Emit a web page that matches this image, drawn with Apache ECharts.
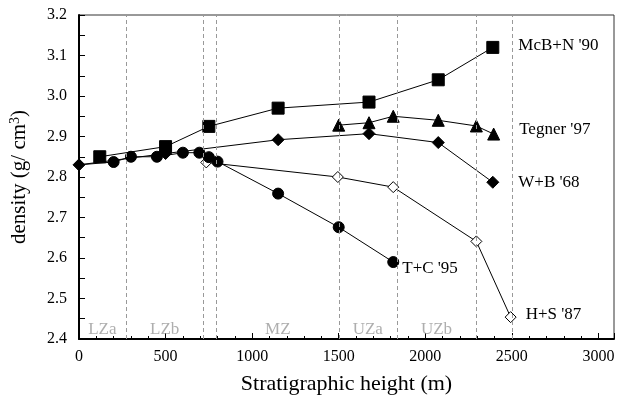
<!DOCTYPE html>
<html>
<head>
<meta charset="utf-8">
<script src="https://cdn.jsdelivr.net/npm/echarts@6/dist/echarts.min.js"></script>
<style>html,body{margin:0;padding:0;background:#fff;}#c{width:619px;height:400px;}</style>
</head>
<body>
<div id="c"></div>
<script>
// Data
const mcbn90 = [[120,2.85],[500,2.875],[750,2.925],[1150,2.97],[1675,2.985],[2075,3.04],[2390,3.12]];
const tegner97 = [[1500,2.928],[1675,2.934],[1815,2.95],[2075,2.94],[2295,2.926],[2395,2.906]];
const wb68 = [[0,2.83],[500,2.858],[1150,2.892],[1675,2.907],[2075,2.885],[2390,2.787]];
const tc95 = [[0,2.83],[200,2.837],[300,2.85],[450,2.85],[600,2.86],[695,2.86],[750,2.849],[800,2.838],[1150,2.759],[1500,2.676],[1815,2.59]];
const hs87 = [[735,2.836],[1495,2.8],[1815,2.775],[2295,2.641],[2493,2.454]];
const zoneBounds = [275, 717, 795, 1503, 1838, 2296, 2500];
const zoneNames = ['LZa','LZb','MZ','UZa','UZb'];
const zoneLabelX = [135, 495, 1148, 1668, 2065];
const xTicks = [0,500,1000,1500,2000,2500,3000];

const serif = 'Liberation Serif, Times New Roman, serif';
const chart = echarts.init(document.getElementById('c'));

function lastLabel(arr, name, pos, offset) {
  return arr.map((p, i) => {
    if (i === arr.length - 1) {
      return {value: p, label: {show: true, position: pos, formatter: name, offset: offset,
        color: '#000', fontFamily: serif, fontSize: 17}};
    }
    return p;
  });
}

const tcData = tc95.map((p, i) => i === 0 ? {value: p, symbol: 'none'} : p);
tcData[tcData.length - 1] = {value: tc95[tc95.length - 1], label: {show: true, position: 'right', formatter: "T+C '95",
  offset: [-2, 6], color: '#000', fontFamily: serif, fontSize: 17}};

const base = {type: 'line', lineStyle: {color: '#000', width: 1}, itemStyle: {color: '#000', borderColor: '#000'},
  showAllSymbol: true, animation: false, z: 3};

chart.setOption({
  animation: false,
  backgroundColor: '#fff',
  grid: {left: 78, right: 5, top: 15, bottom: 57, show: true, borderColor: '#333', borderWidth: 1},
  xAxis: {
    type: 'value', min: 0, max: 3090, interval: 500,
    name: 'Stratigraphic height (m)', nameLocation: 'middle', nameGap: 34,
    nameTextStyle: {fontFamily: serif, fontSize: 22, color: '#000'},
    axisLine: {show: true, lineStyle: {color: '#000', width: 2}},
    axisTick: {show: true, inside: true, length: 6, lineStyle: {color: '#000'}},
    minorTick: {show: true, splitNumber: 5, length: 3, lineStyle: {color: '#000'}},
    splitLine: {show: false},
    axisLabel: {fontFamily: serif, fontSize: 16, color: '#000', margin: 10, showMaxLabel: false,
      formatter: v => xTicks.indexOf(v) >= 0 ? String(v) : ''}
  },
  yAxis: {
    type: 'value', min: 2.4, max: 3.2, interval: 0.1,
    name: 'density (g/ cm{sup|3})', nameLocation: 'middle', nameGap: 48,
    nameTextStyle: {fontFamily: serif, fontSize: 21, color: '#000',
      rich: {sup: {fontFamily: serif, fontSize: 14, color: '#000', padding: [0, 0, 9, 0]}}},
    axisLine: {show: true, lineStyle: {color: '#000', width: 2}},
    axisTick: {show: true, inside: true, length: 6, lineStyle: {color: '#000'}},
    minorTick: {show: true, splitNumber: 2, length: 6, lineStyle: {color: '#000'}},
    splitLine: {show: false},
    axisLabel: {fontFamily: serif, fontSize: 16, color: '#000', margin: 12, formatter: v => v.toFixed(1)}
  },
  series: [
    {type: 'scatter', symbolSize: 0, silent: true, z: 1,
      data: zoneLabelX.map((x, i) => ({value: [x, 2.423], label: {show: true, position: 'inside',
        formatter: zoneNames[i], color: '#9a9a9a', fontFamily: serif, fontSize: 17}})),
      markLine: {silent: true, symbol: 'none', label: {show: false},
        lineStyle: {color: '#999', type: [4, 3], width: 1},
        data: zoneBounds.map(x => ({xAxis: x}))}},
    Object.assign({}, base, {name: "H+S '87", symbol: 'diamond', symbolSize: 11,
      itemStyle: {color: '#fff', borderColor: '#000', borderWidth: 1},
      data: lastLabel(hs87, "H+S '87", 'right', [4, -3])}),
    Object.assign({}, base, {name: "T+C '95", symbol: 'circle', symbolSize: 11, data: tcData}),
    Object.assign({}, base, {name: "W+B '68", symbol: 'diamond', symbolSize: 12,
      data: lastLabel(wb68, "W+B '68", 'right', [14, 0])}),
    Object.assign({}, base, {name: "Tegner '97", symbol: 'triangle', symbolSize: 12,
      data: lastLabel(tegner97, "Tegner '97", 'right', [14, -5])}),
    Object.assign({}, base, {name: "McB+N '90", symbol: 'rect', symbolSize: 12,
      data: lastLabel(mcbn90, "McB+N '90", 'right', [14, -2])})
  ]
});
</script>
</body>
</html>
